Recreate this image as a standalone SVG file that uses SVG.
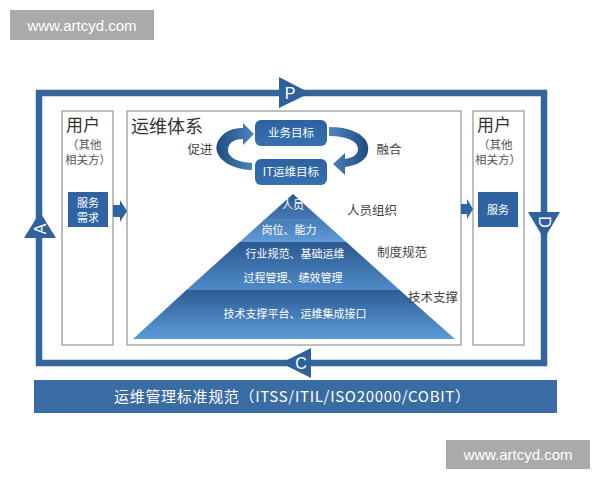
<svg xmlns="http://www.w3.org/2000/svg" width="600" height="480" viewBox="0 0 600 480">
<defs>
<style>
.cjk{font-family:"Noto Sans CJK SC","Noto Sans",sans-serif}
.lat{font-family:"Liberation Sans","Noto Sans",sans-serif}
.frame{fill:none;stroke:#a9a9a9;stroke-width:1.5}
.loop{stroke:#34659c;stroke-width:6.5;fill:none}
.tri{fill:#2f619b}
.letter{fill:#fff;font-size:16px;text-anchor:middle;dominant-baseline:central}
.blk{fill:#2f64a2}
.wt{fill:#fff;text-anchor:middle}
.dark{fill:#444;font-size:12.5px}
.pyr{fill:#fff;font-size:11px;text-anchor:middle}
.wm{fill:#aaaaaa}
</style>
<linearGradient id="g1" x1="0" y1="0" x2="0" y2="1"><stop offset="0" stop-color="#2a5690"/><stop offset="1" stop-color="#609bd6"/></linearGradient>
<linearGradient id="g2" x1="0" y1="0" x2="0" y2="1"><stop offset="0" stop-color="#2b5890"/><stop offset="1" stop-color="#4f8bc8"/></linearGradient>
<linearGradient id="g3" x1="0" y1="0" x2="0" y2="1"><stop offset="0" stop-color="#2d5c95"/><stop offset="1" stop-color="#5b9bd8"/></linearGradient>
<linearGradient id="gb" x1="0" y1="0" x2="0" y2="1"><stop offset="0" stop-color="#2d62a0"/><stop offset="1" stop-color="#3670b0"/></linearGradient>
<linearGradient id="gcl" x1="0" y1="0" x2="1" y2="0"><stop offset="0" stop-color="#1e4b7e"/><stop offset="1" stop-color="#4f86c0"/></linearGradient>
<linearGradient id="gcr" x1="1" y1="0" x2="0" y2="0"><stop offset="0" stop-color="#1e4b7e"/><stop offset="1" stop-color="#4f86c0"/></linearGradient>
</defs>
<rect width="600" height="480" fill="#fff"/>

<g id="watermark-top">
<rect class="wm" x="10" y="10" width="144" height="30"/>
<text class="lat wt" x="82" y="31" font-size="15">www.artcyd.com</text>
</g>
<g id="watermark-bottom">
<rect class="wm" x="446" y="440" width="144" height="29"/>
<text class="lat wt" x="518" y="460" font-size="15">www.artcyd.com</text>
</g>

<g id="user-left">
<rect class="frame" x="62" y="111" width="51" height="234"/>
<text class="cjk" x="66" y="131" font-size="17" fill="#333">用户</text>
<text class="cjk" x="67" y="149" font-size="11.5" fill="#555">（其他</text>
<text class="cjk" x="65" y="164" font-size="11.5" fill="#555">相关方）</text>
<rect class="blk" x="68" y="192" width="40" height="35"/>
<text class="cjk wt" x="88" y="207" font-size="11">服务</text>
<text class="cjk wt" x="88" y="222" font-size="11">需求</text>
</g>

<g id="system">
<rect class="frame" x="127" y="111" width="334" height="234"/>
<text class="cjk" x="131" y="133" font-size="18" fill="#333">运维体系</text>
<text class="cjk" x="200" y="154" font-size="12.5" fill="#444" text-anchor="middle">促进</text>
<text class="cjk" x="389" y="154" font-size="12.5" fill="#444" text-anchor="middle">融合</text>
</g>

<g id="user-right">
<rect class="frame" x="473" y="111" width="51" height="234"/>
<text class="cjk" x="477" y="131" font-size="17" fill="#333">用户</text>
<text class="cjk" x="478" y="149" font-size="11.5" fill="#555">（其他</text>
<text class="cjk" x="475" y="164" font-size="11.5" fill="#555">相关方）</text>
<rect class="blk" x="478" y="192" width="40" height="35"/>
<text class="cjk wt" x="498" y="214" font-size="11">服务</text>
</g>

<g id="connectors">
<path class="loop" d="M39,363 V93 H544 V363 Z"/>
<polygon class="blk" points="113,205 120,205 120,200 127,211 120,222 120,217 113,217"/>
<polygon class="blk" points="461,204 467,204 467,199 473,209 467,219 467,214 461,214"/>
<path fill="url(#gcl)" d="M252,170 C224,169 209,152 220,138 C226,130 235,128 243,128 L243,123 L254,134 L243,145 L243,139 C236,139 228,142 228,150 C228,158 238,162 252,163 Z"/>
<path fill="url(#gcr)" d="M329,127 C358,127 373,140 367,155 C363,163 353,166 345,167 L345,175 L333,164 L345,153 L345,159 C352,158 358,155 358,149 C358,141 346,136 329,136 Z"/>
</g>

<g id="tri-P"><polygon class="tri" points="279,77 310,93 279,108"/><text class="lat letter" x="290" y="93">P</text></g>
<g id="tri-A"><polygon class="tri" points="40,212 56,238 24,238"/><text class="lat letter" x="40" y="229" transform="rotate(-90 40 229)">A</text></g>
<g id="tri-D"><polygon class="tri" points="528,212 560,212 544,239"/><text class="lat letter" x="544" y="222" transform="rotate(90 544 222)">D</text></g>
<g id="tri-C"><polygon class="tri" points="281,363 311,348 311,378"/><text class="lat letter" x="301" y="363">C</text></g>

<g id="goal-business">
<rect x="255" y="120" width="72" height="26" rx="6" fill="url(#gb)"/>
<text class="cjk wt" x="291" y="137" font-size="11.5">业务目标</text>
</g>
<g id="goal-it">
<rect x="255" y="159" width="72" height="26" rx="6" fill="url(#gb)"/>
<text class="cjk wt" x="291" y="176" font-size="11.5">IT运维目标</text>
</g>

<g id="pyramid">
<polygon fill="url(#g1)" points="293,194 346.3,242 239.7,242"/>
<line x1="263" y1="220" x2="323" y2="220" stroke="#6d9fd2" stroke-width="0.8" opacity="0.6"/>
<polygon fill="url(#g2)" points="239.7,242 346.3,242 399.6,290 186.4,290"/>
<polygon fill="url(#g3)" points="186.4,290 399.6,290 455,339 133,339"/>
<text class="cjk pyr" x="293" y="209">人员</text>
<text class="cjk pyr" x="289" y="234">岗位、能力</text>
<text class="cjk pyr" x="295" y="258">行业规范、基础运维</text>
<text class="cjk pyr" x="293" y="282">过程管理、绩效管理</text>
<text class="cjk pyr" x="295" y="318">技术支撑平台、运维集成接口</text>
</g>

<g id="labels">
<text class="cjk dark" x="347" y="215">人员组织</text>
<text class="cjk dark" x="377" y="257">制度规范</text>
<text class="cjk dark" x="408" y="302">技术支撑</text>
</g>

<g id="standards-bar">
<rect x="34" y="380" width="523" height="33" fill="#3a6ca4"/>
<text class="cjk wt" x="292" y="402" font-size="15" textLength="356" lengthAdjust="spacing">运维管理标准规范（ITSS/ITIL/ISO20000/COBIT）</text>
</g>
</svg>
